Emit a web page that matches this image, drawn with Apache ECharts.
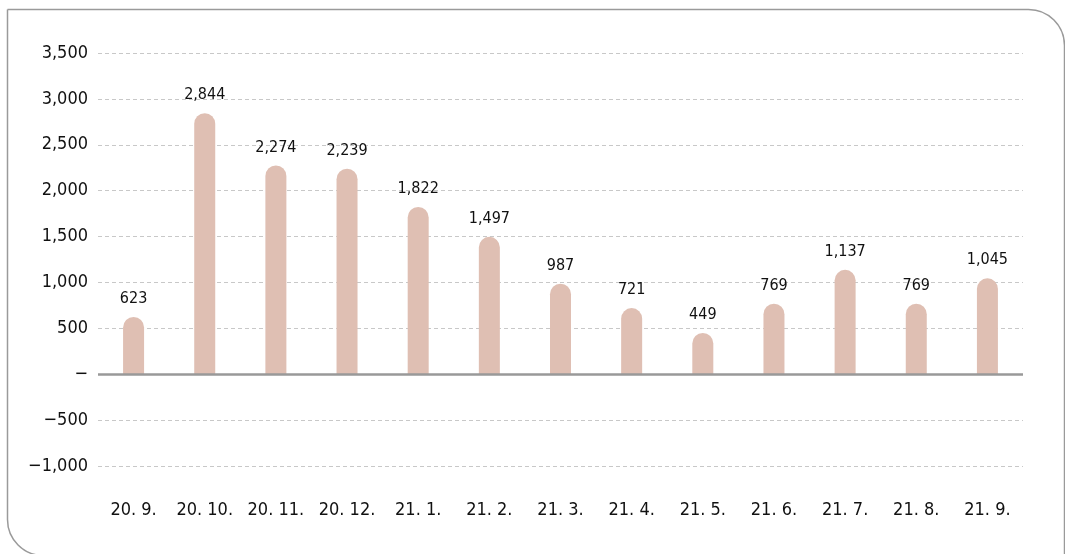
<!DOCTYPE html>
<html><head><meta charset="utf-8">
<script src="https://cdn.jsdelivr.net/npm/echarts@6/dist/echarts.min.js"></script>
<style>html,body{margin:0;padding:0;background:#fff}#c{width:1065px;height:554px}</style>
</head><body><div id="c"></div>
<script>
const categories = ['20. 9.','20. 10.','20. 11.','20. 12.','21. 1.','21. 2.','21. 3.','21. 4.','21. 5.','21. 6.','21. 7.','21. 8.','21. 9.'];
const values = [623,2844,2274,2239,1822,1497,987,721,449,769,1137,769,1045];
const yTicks = [-1000,-500,0,500,1000,1500,2000,2500,3000,3500];
const yTickLabels = ['−1,000','−500','−','500','1,000','1,500','2,000','2,500','3,000','3,500'];

const FONT = '"DejaVu Sans Condensed","Liberation Sans Narrow",sans-serif';
const chart = echarts.init(document.getElementById('c'));
chart.setOption({
  animation:false,
  graphic:[{type:'rect',left:5,top:7,shape:{width:1057,height:546,r:[0,36,0,36]},
    style:{fill:'none',stroke:'#9a9a9a',lineWidth:1.5},silent:true}],
  grid:{left:98,right:42,top:53,bottom:88},
  xAxis:{type:'category',data:categories,axisLine:{show:false},axisTick:{show:false},
    axisLabel:{interval:0,margin:35,fontFamily:FONT,fontSize:18,color:'#111'}},
  yAxis:{type:'value',min:-1000,max:3500,interval:500,
    axisLine:{show:false},axisTick:{show:false},
    axisLabel:{margin:10,fontFamily:FONT,fontSize:18,color:'#111',
      formatter:v=>{const i=yTicks.indexOf(v);return i>=0?yTickLabels[i]:'';}},
    splitLine:{lineStyle:{color:'#c8c8c8',type:[4,3],width:1}}},
  series:[{type:'bar',data:values,barWidth:21,
    itemStyle:{color:'#dfbfb3',borderRadius:[10.5,10.5,0,0]},
    label:{show:true,position:'top',distance:10,fontFamily:FONT,fontSize:16,color:'#111',
      formatter:p=>p.value.toLocaleString('en-US')},
    markLine:{silent:true,symbol:'none',label:{show:false},
      lineStyle:{color:'#999',type:'solid',width:2.5},data:[{yAxis:0}]}}]
});
</script></body></html>
